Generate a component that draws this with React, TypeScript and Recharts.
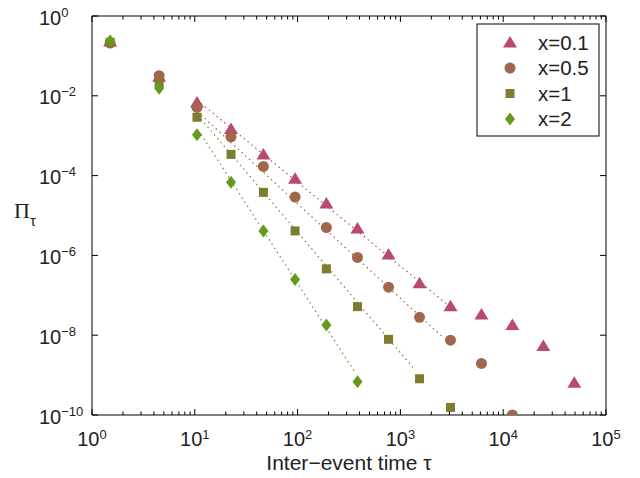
import { ScatterChart, Scatter, XAxis, YAxis, ReferenceLine, Label, Customized } from "recharts"

// bin centres of the inter-event time histogram (log2 bins)
const TAU = [1.5, 4.5, 10.5, 22.5, 46.5, 94.5, 190.5, 382.5, 766.5, 1534.5, 3070.5, 6142.5, 12286.5, 24574.5, 49150.5]

const PI_01 = [0.23, 0.03, 6.8e-3, 1.48e-3, 3.4e-4, 8.3e-5, 2.0e-5, 4.7e-6, 1.05e-6, 2.0e-7, 5.3e-8, 3.3e-8, 1.8e-8, 5.4e-9, 6.4e-10]
const PI_05 = [0.21, 0.032, 5.1e-3, 9.4e-4, 1.7e-4, 2.9e-5, 5.0e-6, 8.9e-7, 1.6e-7, 2.8e-8, 7.5e-9, 1.96e-9, 1.0e-10]
const PI_1 = [0.22, 0.021, 2.9e-3, 3.4e-4, 3.8e-5, 4.1e-6, 4.6e-7, 5.2e-8, 7.9e-9, 8.1e-10, 1.55e-10]
const PI_2 = [0.237, 0.0155, 1.06e-3, 6.8e-5, 4.1e-6, 2.5e-7, 1.8e-8, 6.8e-10]

// power-law fits (end points only)
const FIT_X = {
  x01: [11.5, 2840],
  x05: [11.5, 2640],
  x1: [11.5, 1396],
  x2: [11.5, 360],
}
const FIT_Y = {
  x01: [6.4e-3, 6e-8],
  x05: [3.3e-3, 8.5e-9],
  x1: [2.6e-3, 1.33e-9],
  x2: [1.08e-3, 1.2e-9],
}

const LEGEND_LABELS = ["x=0.1", "x=0.5", "x=1", "x=2"]
const X_DECADES = [1, 10, 100, 1000, 10000, 100000]
const Y_DECADES = [1e-10, 1e-8, 1e-6, 1e-4, 1e-2, 1]

const COLORS = ["#b84a6c", "#a2664c", "#7e7c2e", "#66991d"]

const W = 640
const H = 478
const LEFT = 92
const RIGHT = 606
const TOP = 16
const BOTTOM = 415
const FONT = "'Liberation Sans', Arial, Helvetica, sans-serif"
const SERIF = "'Liberation Serif', 'Times New Roman', serif"

const xMinor: number[] = []
X_DECADES.slice(0, -1).forEach((d) => {
  for (let k = 1; k < 10; k++) xMinor.push(d * k)
})
xMinor.push(100000)

const toPts = (xs: number[], ys: number[]) => ys.map((y, i) => ({ x: xs[i], y }))

const isDecade = (v: number) => {
  const e = Math.round(Math.log10(v))
  return Math.abs(v - Math.pow(10, e)) < 1e-6 * v
}

const expLabel = (e: number) => (e < 0 ? "\u2212" + Math.abs(e) : String(e))

function XTick({ x, y, payload }: any) {
  const v = payload.value
  const major = isDecade(v)
  const len = major ? 6 : 3.5
  const e = Math.round(Math.log10(v))
  return (
    <g>
      <line x1={x} x2={x} y1={y} y2={y - len} stroke="#000" strokeWidth={1} />
      <line x1={x} x2={x} y1={TOP} y2={TOP + len} stroke="#000" strokeWidth={1} />
      {major && (
        <text x={x} y={y + 31} textAnchor="middle" fontFamily={FONT} fontSize={20} fill="#222">
          10<tspan dy={-7} fontSize={13}>{expLabel(e)}</tspan>
        </text>
      )}
    </g>
  )
}

function YTick({ x, y, payload }: any) {
  const e = Math.round(Math.log10(payload.value))
  return (
    <g>
      <line x1={x} x2={x + 6} y1={y} y2={y} stroke="#000" strokeWidth={1} />
      <line x1={RIGHT} x2={RIGHT - 6} y1={y} y2={y} stroke="#000" strokeWidth={1} />
      <text x={39} y={y + 8.5} textAnchor="start" fontFamily={FONT} fontSize={20} fill="#222">
        10<tspan dy={-8} fontSize={13}>{expLabel(e)}</tspan>
      </text>
    </g>
  )
}

function Triangle({ cx, cy, fill }: any) {
  return <polygon points={`${cx},${cy - 6.5} ${cx + 7},${cy + 5} ${cx - 7},${cy + 5}`} fill={fill} />
}
function Dot({ cx, cy, fill }: any) {
  return <circle cx={cx} cy={cy} r={5.5} fill={fill} />
}
function Square({ cx, cy, fill }: any) {
  return <rect x={cx - 4.5} y={cy - 4.5} width={9} height={9} fill={fill} />
}
function Diamond({ cx, cy, fill }: any) {
  return <polygon points={`${cx},${cy - 6.5} ${cx + 5},${cy} ${cx},${cy + 6.5} ${cx - 5},${cy}`} fill={fill} />
}

const SHAPES = [Triangle, Dot, Square, Diamond]

function LegendBox() {
  const x0 = 477
  const y0 = 24
  return (
    <g>
      <rect x={x0} y={y0} width={122} height={112} fill="#fff" stroke="#000" strokeWidth={1} />
      {LEGEND_LABELS.map((lab, i) => {
        const cy = 42.5 + i * 25.5
        const Shape = SHAPES[i]
        return (
          <g key={lab}>
            <Shape cx={510} cy={cy} fill={COLORS[i]} />
            <text x={538} y={cy + 7} fontFamily={FONT} fontSize={20.5} fill="#222">
              {lab}
            </text>
          </g>
        )
      })}
    </g>
  )
}

export default function App() {
  const series = [toPts(TAU, PI_01), toPts(TAU, PI_05), toPts(TAU, PI_1), toPts(TAU, PI_2)]
  const fits = [
    toPts(FIT_X.x01, FIT_Y.x01),
    toPts(FIT_X.x05, FIT_Y.x05),
    toPts(FIT_X.x1, FIT_Y.x1),
    toPts(FIT_X.x2, FIT_Y.x2),
  ]

  return (
    <div style={{ position: "absolute", left: 0, top: 0, width: W, height: H, background: "#fff" }}>
      <ScatterChart
        width={W}
        height={H}
        margin={{ top: TOP, right: W - RIGHT, bottom: 0, left: 0 }}
      >
        <XAxis
          type="number"
          dataKey="x"
          scale="log"
          domain={[1, 100000]}
          ticks={xMinor}
          interval={0}
          allowDataOverflow
          height={H - BOTTOM}
          tickSize={0}
          tickMargin={0}
          tickLine={false}
          tick={<XTick />}
          axisLine={{ stroke: "#000" }}
        >
          <Label
            content={() => (
              <text x={349} y={470} textAnchor="middle" fontFamily={FONT} fontSize={21} fill="#222">
                Inter{"\u2212"}event time {"\u03c4"}
              </text>
            )}
          />
        </XAxis>
        <YAxis
          type="number"
          dataKey="y"
          scale="log"
          domain={[1e-10, 1]}
          ticks={Y_DECADES}
          interval={0}
          allowDataOverflow
          width={LEFT}
          tickSize={0}
          tickMargin={0}
          tickLine={false}
          tick={<YTick />}
          axisLine={{ stroke: "#000" }}
        >
          <Label
            content={() => (
              <text x={14} y={218} fontFamily={SERIF} fontSize={22} fill="#222">
                {"\u03a0"}
                <tspan dy={8} fontSize={15} fontFamily={FONT}>{"\u03c4"}</tspan>
              </text>
            )}
          />
        </YAxis>
        <ReferenceLine y={1} stroke="#000" strokeWidth={1} ifOverflow="visible" />
        <ReferenceLine x={100000} stroke="#000" strokeWidth={1} ifOverflow="visible" />
        {fits.map((pts, i) => (
          <Scatter
            key={"fit" + i}
            data={pts}
            line={{ stroke: COLORS[i], strokeWidth: 1.2, strokeDasharray: "1.5 3.5" }}
            shape={() => <g />}
            isAnimationActive={false}
          />
        ))}
        {series.map((pts, i) => (
          <Scatter
            key={"s" + i}
            name={LEGEND_LABELS[i]}
            data={pts}
            fill={COLORS[i]}
            shape={SHAPES[i]}
            isAnimationActive={false}
          />
        ))}
        <Customized component={LegendBox} />
      </ScatterChart>
    </div>
  )
}
